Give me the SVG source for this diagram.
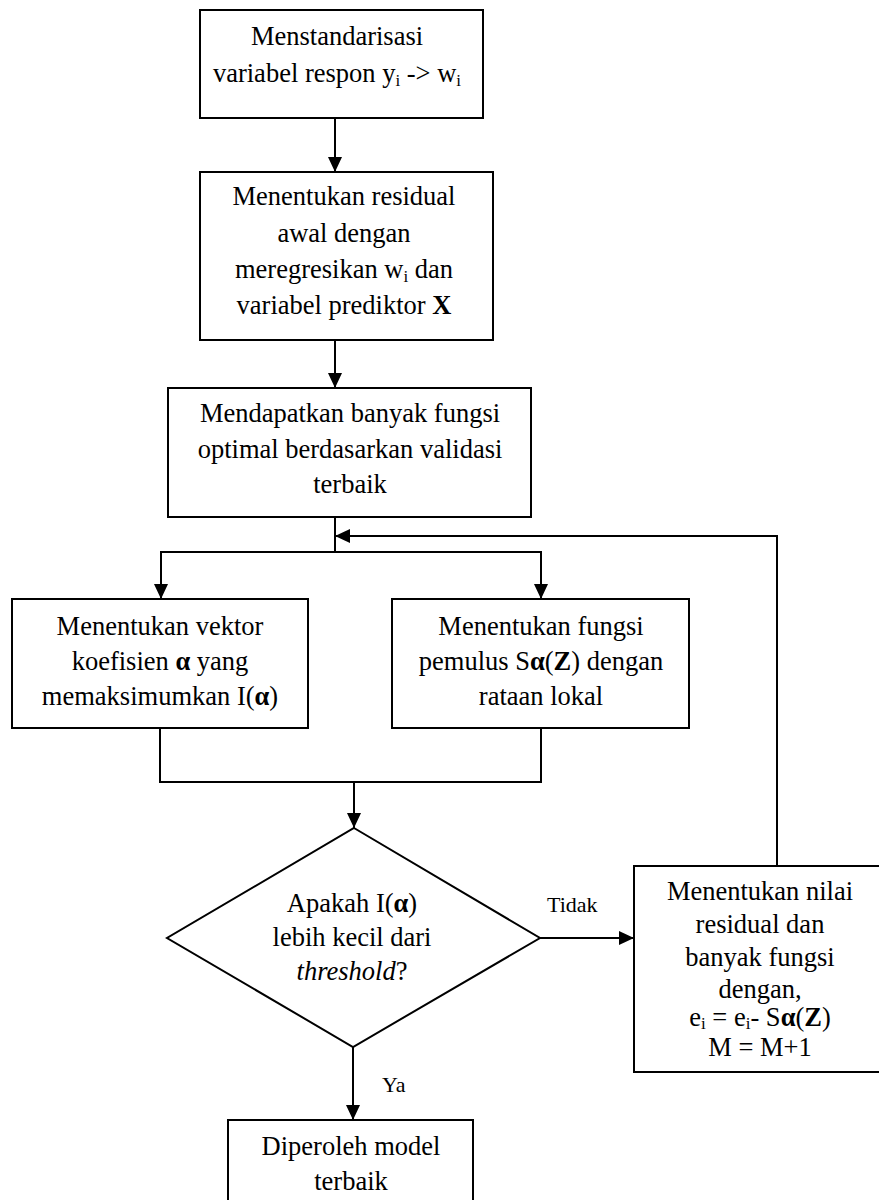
<svg xmlns="http://www.w3.org/2000/svg" width="879" height="1200" viewBox="0 0 879 1200">
<style>
.box{fill:#fff;stroke:#000;stroke-width:2}
.t{font-size:26.5px;fill:#000;text-anchor:middle}
.lbl{font-size:22px;fill:#000}
.c{fill:none;stroke:#000;stroke-width:2}
.sub{font-size:17px}
.b{font-weight:bold}
</style>
<defs>
<marker id="ah" markerUnits="userSpaceOnUse" markerWidth="15" markerHeight="14" refX="15" refY="7" orient="auto">
<path d="M0,0 L15,7 L0,14 z" fill="#000"/>
</marker>
</defs>
<g font-family="Liberation Serif, serif">
<g id="connectors">
<line class="c" x1="335" y1="118" x2="335" y2="172" marker-end="url(#ah)"/>
<line class="c" x1="335" y1="340" x2="335" y2="388" marker-end="url(#ah)"/>
<polyline class="c" points="335,517 335,552"/>
<polyline class="c" points="161,599 161,552 541,552 541,599" marker-end="url(#ah)"/>
<line class="c" x1="161" y1="552" x2="161" y2="599" marker-end="url(#ah)"/>
<polyline class="c" points="160,728 160,782 541,782 541,728"/>
<line class="c" x1="354" y1="782" x2="354" y2="828" marker-end="url(#ah)"/>
<line class="c" x1="540" y1="938" x2="634" y2="938" marker-end="url(#ah)"/>
<line class="c" x1="353" y1="1047" x2="353" y2="1120" marker-end="url(#ah)"/>
<polyline class="c" points="777,866 777,536 335,536" marker-end="url(#ah)"/>
<text class="lbl" x="547" y="912">Tidak</text>
<text class="lbl" x="382" y="1092">Ya</text>
</g>
<g id="n1">
<rect class="box" x="200" y="10" width="283" height="108"/>
<text class="t" x="337" y="45">Menstandarisasi</text>
<text class="t" x="337" y="82">variabel respon y<tspan class="sub" dy="4">i</tspan><tspan dy="-4"> -&gt; w</tspan><tspan class="sub" dy="4">i</tspan></text>
</g>
<g id="n2">
<rect class="box" x="200" y="172" width="293" height="168"/>
<text class="t" x="344" y="205">Menentukan residual</text>
<text class="t" x="344" y="242">awal dengan</text>
<text class="t" x="344" y="278">meregresikan w<tspan class="sub" dy="4">i</tspan><tspan dy="-4"> dan</tspan></text>
<text class="t" x="344" y="314">variabel prediktor <tspan class="b">X</tspan></text>
</g>
<g id="n3">
<rect class="box" x="168" y="388" width="363" height="129"/>
<text class="t" x="350" y="422">Mendapatkan banyak fungsi</text>
<text class="t" x="350" y="458">optimal berdasarkan validasi</text>
<text class="t" x="350" y="493">terbaik</text>
</g>
<g id="n4">
<rect class="box" x="12" y="599" width="296" height="129"/>
<text class="t" x="160" y="635">Menentukan vektor</text>
<text class="t" x="160" y="670">koefisien <tspan class="b">α</tspan> yang</text>
<text class="t" x="160" y="705">memaksimumkan I(<tspan class="b">α</tspan>)</text>
</g>
<g id="n5">
<rect class="box" x="392" y="599" width="297" height="129"/>
<text class="t" x="541" y="635">Menentukan fungsi</text>
<text class="t" x="541" y="670">pemulus S<tspan class="b">α</tspan>(<tspan class="b">Z</tspan>) dengan</text>
<text class="t" x="541" y="705">rataan lokal</text>
</g>
<g id="n6">
<polygon class="box" points="354,828 540,938 353,1047 167,938"/>
<text class="t" x="352" y="912">Apakah I(<tspan class="b">α</tspan>)</text>
<text class="t" x="352" y="946">lebih kecil dari</text>
<text class="t" x="352" y="980"><tspan font-style="italic">threshold</tspan>?</text>
</g>
<g id="n7">
<rect class="box" x="634" y="866" width="252" height="206"/>
<text class="t" x="760" y="900">Menentukan nilai</text>
<text class="t" x="760" y="933">residual dan</text>
<text class="t" x="760" y="966">banyak fungsi</text>
<text class="t" x="760" y="998">dengan,</text>
<text class="t" x="760" y="1026">e<tspan class="sub" dy="3">i</tspan><tspan dy="-3"> = e</tspan><tspan class="sub" dy="3">i</tspan><tspan dy="-3">- S</tspan><tspan class="b">α</tspan>(<tspan class="b">Z</tspan>)</text>
<text class="t" x="760" y="1056">M = M+1</text>
</g>
<g id="n8">
<rect class="box" x="228" y="1120" width="245" height="100"/>
<text class="t" x="351" y="1155">Diperoleh model</text>
<text class="t" x="351" y="1190">terbaik</text>
</g>
</g>
</svg>
